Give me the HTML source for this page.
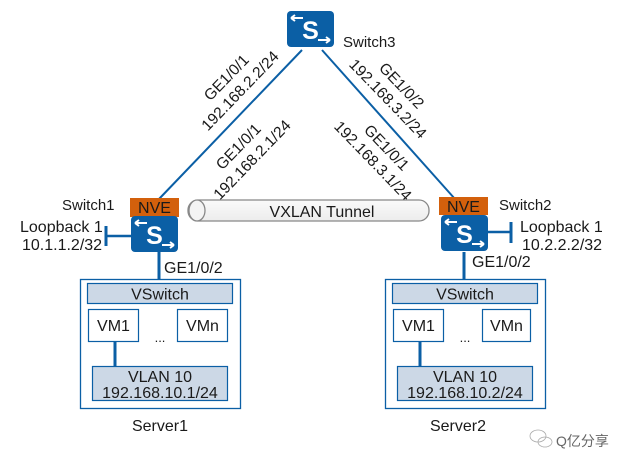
<!DOCTYPE html>
<html><head><meta charset="utf-8"><style>
html,body{margin:0;padding:0;background:#fff;}
svg text{font-family:"Liberation Sans","Noto Sans CJK SC",sans-serif;fill:#1a1a1a;}
</style></head><body>
<svg width="633" height="469" viewBox="0 0 633 469" xmlns="http://www.w3.org/2000/svg">
<defs>
<g id="sw">
<rect x="0" y="0" width="47" height="36" rx="4" fill="#0b5fa5"/>
<text x="23.5" y="28" font-size="25" font-weight="bold" text-anchor="middle" style="fill:#fff">S</text>
<path d="M4 7 H16 M4 7 L8 4 M4 7 L8 10" stroke="#fff" stroke-width="2" fill="none"/>
<path d="M31 29 H43 M43 29 L39 26 M43 29 L39 32" stroke="#fff" stroke-width="2" fill="none"/>
</g>
<linearGradient id="tg" x1="0" y1="0" x2="0" y2="1"><stop offset="0" stop-color="#fafafa"/><stop offset="1" stop-color="#ececec"/></linearGradient>
</defs>
<line x1="302" y1="50" x2="159" y2="199" stroke="#0b5fa5" stroke-width="2"/>
<line x1="322" y1="50" x2="455" y2="199" stroke="#0b5fa5" stroke-width="2"/>
<use href="#sw" x="287" y="11"/>
<text x="343" y="47" font-size="15">Switch3</text>
<g transform="translate(233,84) rotate(-46)" font-size="15.5">
<text x="0" y="-4" text-anchor="middle">GE1/0/1</text>
<text x="0" y="15" text-anchor="middle">192.168.2.2/24</text>
</g>
<g transform="translate(245,153) rotate(-46)" font-size="15.5">
<text x="0" y="-4" text-anchor="middle">GE1/0/1</text>
<text x="0" y="15" text-anchor="middle">192.168.2.1/24</text>
</g>
<g transform="translate(395,92) rotate(46)" font-size="15.5">
<text x="0" y="-4" text-anchor="middle">GE1/0/2</text>
<text x="0" y="15" text-anchor="middle">192.168.3.2/24</text>
</g>
<g transform="translate(380,154) rotate(46)" font-size="15.5">
<text x="0" y="-4" text-anchor="middle">GE1/0/1</text>
<text x="0" y="15" text-anchor="middle">192.168.3.1/24</text>
</g>
<rect x="188" y="200" width="241" height="21" rx="10" fill="url(#tg)" stroke="#888" stroke-width="1.3"/>
<ellipse cx="197" cy="210.5" rx="8" ry="10.5" fill="#f4f4f4" stroke="#888" stroke-width="1.3"/>
<text x="322" y="217" font-size="16" text-anchor="middle">VXLAN Tunnel</text>
<rect x="130" y="198" width="49" height="19" fill="#d3600c"/>
<text x="154.5" y="213" font-size="16" text-anchor="middle">NVE</text>
<use href="#sw" x="131" y="216"/>
<text x="62" y="210" font-size="15">Switch1</text>
<line x1="131" y1="236" x2="106" y2="236" stroke="#0b5fa5" stroke-width="2.5"/>
<line x1="106" y1="226" x2="106" y2="246" stroke="#0b5fa5" stroke-width="3"/>
<text x="20" y="232" font-size="16">Loopback 1</text>
<text x="22" y="250" font-size="16">10.1.1.2/32</text>
<line x1="159" y1="252" x2="159" y2="280" stroke="#0b5fa5" stroke-width="3"/>
<text x="164" y="273" font-size="16">GE1/0/2</text>
<rect x="439" y="197" width="49" height="18" fill="#d3600c"/>
<text x="463.5" y="212" font-size="16" text-anchor="middle">NVE</text>
<use href="#sw" x="441" y="215"/>
<text x="499" y="210" font-size="15">Switch2</text>
<line x1="488" y1="232" x2="511" y2="232" stroke="#0b5fa5" stroke-width="2.5"/>
<line x1="511" y1="222" x2="511" y2="243" stroke="#0b5fa5" stroke-width="3"/>
<text x="520" y="232" font-size="16">Loopback 1</text>
<text x="522" y="250" font-size="16">10.2.2.2/32</text>
<line x1="464" y1="252" x2="464" y2="280" stroke="#0b5fa5" stroke-width="3"/>
<text x="472" y="267" font-size="16">GE1/0/2</text>
<g>
<rect x="80.5" y="279.5" width="160" height="129" fill="#fff" stroke="#0b5fa5" stroke-width="1.3"/>
<rect x="87.5" y="283.5" width="145" height="20" fill="#ccd8e6" stroke="#0b5fa5" stroke-width="1.2"/>
<text x="160" y="299.5" font-size="16" text-anchor="middle">VSwitch</text>
<rect x="88.5" y="309.5" width="50" height="32" fill="#fff" stroke="#0b5fa5" stroke-width="1.2"/>
<text x="113.5" y="331" font-size="16" text-anchor="middle">VM1</text>
<rect x="177.5" y="309.5" width="50" height="32" fill="#fff" stroke="#0b5fa5" stroke-width="1.2"/>
<text x="202.5" y="331" font-size="16" text-anchor="middle">VMn</text>
<text x="160" y="342" font-size="13" text-anchor="middle">...</text>
<line x1="115" y1="341" x2="115" y2="366" stroke="#0b5fa5" stroke-width="3"/>
<rect x="92.5" y="366.5" width="135" height="34" fill="#ccd8e6" stroke="#0b5fa5" stroke-width="1.2"/>
<text x="160" y="382" font-size="16" text-anchor="middle">VLAN 10</text>
<text x="160" y="398" font-size="16" text-anchor="middle">192.168.10.1/24</text>
<text x="160" y="431" font-size="16" text-anchor="middle">Server1</text>
</g>
<g transform="translate(305,0)">
<rect x="80.5" y="279.5" width="160" height="129" fill="#fff" stroke="#0b5fa5" stroke-width="1.3"/>
<rect x="87.5" y="283.5" width="145" height="20" fill="#ccd8e6" stroke="#0b5fa5" stroke-width="1.2"/>
<text x="160" y="299.5" font-size="16" text-anchor="middle">VSwitch</text>
<rect x="88.5" y="309.5" width="50" height="32" fill="#fff" stroke="#0b5fa5" stroke-width="1.2"/>
<text x="113.5" y="331" font-size="16" text-anchor="middle">VM1</text>
<rect x="177.5" y="309.5" width="48" height="32" fill="#fff" stroke="#0b5fa5" stroke-width="1.2"/>
<text x="201.5" y="331" font-size="16" text-anchor="middle">VMn</text>
<text x="160" y="342" font-size="13" text-anchor="middle">...</text>
<line x1="115" y1="341" x2="115" y2="366" stroke="#0b5fa5" stroke-width="3"/>
<rect x="92.5" y="366.5" width="135" height="34" fill="#ccd8e6" stroke="#0b5fa5" stroke-width="1.2"/>
<text x="160" y="382" font-size="16" text-anchor="middle">VLAN 10</text>
<text x="160" y="398" font-size="16" text-anchor="middle">192.168.10.2/24</text>
<text x="153" y="431" font-size="16" text-anchor="middle">Server2</text>
</g>
<g stroke="#aaa" fill="none" stroke-width="0.8">
<ellipse cx="538" cy="436" rx="8" ry="6"/>
<ellipse cx="545" cy="442" rx="7" ry="5"/>
</g>
<text x="556" y="446" font-size="14" style="fill:#666">Q亿分享</text>
</svg>
</body></html>
